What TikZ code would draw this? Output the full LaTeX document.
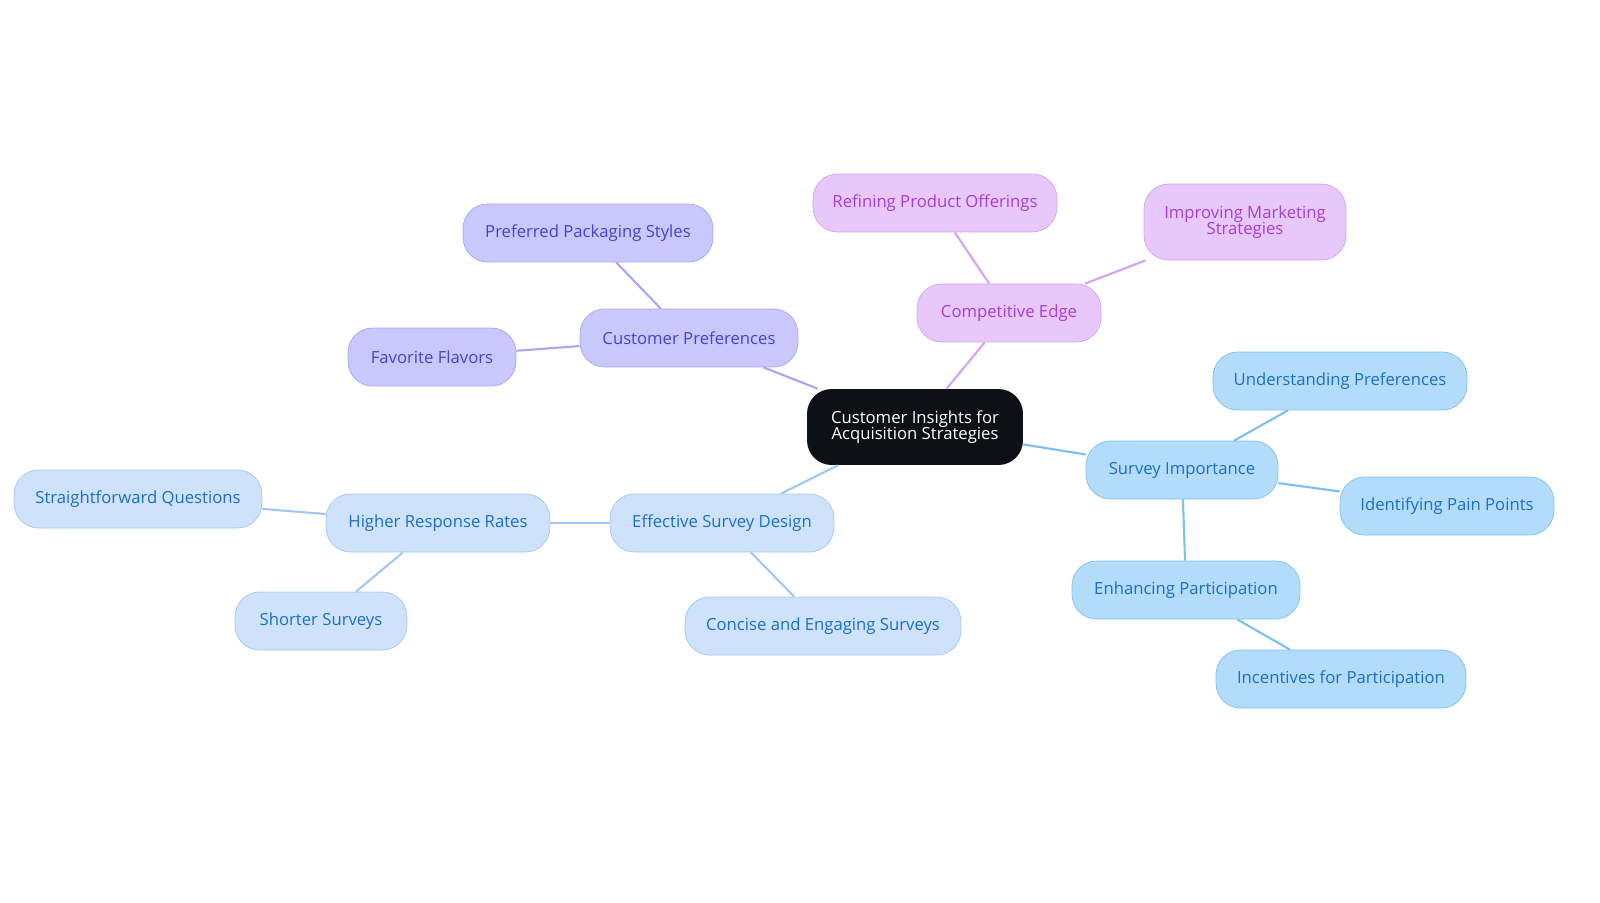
\documentclass[tikz,border=0pt]{standalone}
\usepackage{fontspec}
\setmainfont{Open Sans}
\definecolor{rootfill}{HTML}{0D1117}
\definecolor{purfill}{HTML}{C9C8FC}
\definecolor{purline}{HTML}{A9A6F3}
\definecolor{purtext}{HTML}{4B3FD2}
\definecolor{pinkfill}{HTML}{E8C8FB}
\definecolor{pinkline}{HTML}{D3A2F2}
\definecolor{pinktext}{HTML}{A43ED6}
\definecolor{bluefill}{HTML}{B3DCFB}
\definecolor{blueline}{HTML}{7CC0F2}
\definecolor{bluetext}{HTML}{1C6FC4}
\definecolor{lbluefill}{HTML}{CFE2FB}
\definecolor{lblueline}{HTML}{A3C8F0}
\tikzset{
  box/.style={rounded corners=14pt, minimum height=1.16cm, font=\fontsize{9.5}{10}\selectfont, align=center, inner xsep=0pt},
  root/.style={box, fill=rootfill, text=white, minimum height=1.52cm, minimum width=4.32cm},
  pur/.style={box, fill=purfill, draw=purline, text=purtext},
  pink/.style={box, fill=pinkfill, draw=pinkline, text=pinktext},
  blue/.style={box, fill=bluefill, draw=blueline, text=bluetext},
  lblue/.style={box, fill=lbluefill, draw=lblueline, text=bluetext},
  pedge/.style={draw=purline, line width=1.2pt},
  kedge/.style={draw=pinkline, line width=1.2pt},
  bedge/.style={draw=blueline, line width=1.2pt},
  ledge/.style={draw=lblueline, line width=1.2pt},
}
\begin{document}
\begin{tikzpicture}[x=0.02cm,y=-0.02cm]
\useasboundingbox (0,0) rectangle (1600,903);
\node[root] (root) at (915,427) {Customer Insights for\\[-1pt]Acquisition Strategies};
\node[pur, minimum width=4.36cm] (cp) at (689,338) {Customer Preferences};
\node[pur, minimum width=5cm] (pps) at (588,233) {Preferred Packaging Styles};
\node[pur, minimum width=3.36cm] (ff) at (432,357) {Favorite Flavors};
\node[pink, minimum width=3.68cm] (ce) at (1009,313) {Competitive Edge};
\node[pink, minimum width=4.88cm] (rpo) at (935,203) {Refining Product Offerings};
\node[pink, minimum width=4.04cm, minimum height=1.52cm] (ims) at (1245,222) {Improving Marketing\\[-1pt]Strategies};
\node[blue, minimum width=3.84cm] (si) at (1182,470) {Survey Importance};
\node[blue, minimum width=5.08cm] (up) at (1340,381) {Understanding Preferences};
\node[blue, minimum width=4.28cm] (ipp) at (1447,506) {Identifying Pain Points};
\node[blue, minimum width=4.56cm] (ep) at (1186,590) {Enhancing Participation};
\node[blue, minimum width=5cm] (ifp) at (1341,679) {Incentives for Participation};
\node[lblue, minimum width=4.48cm] (esd) at (722,523) {Effective Survey Design};
\node[lblue, minimum width=4.48cm] (hrr) at (438,523) {Higher Response Rates};
\node[lblue, minimum width=4.96cm] (sq) at (138,499) {Straightforward Questions};
\node[lblue, minimum width=3.44cm] (ss) at (321,621) {Shorter Surveys};
\node[lblue, minimum width=5.52cm] (ces) at (823,626) {Concise and Engaging Surveys};
\draw[pedge] (root) -- (cp);
\draw[pedge] (cp) -- (pps);
\draw[pedge] (cp) -- (ff);
\draw[kedge] (root) -- (ce);
\draw[kedge] (ce) -- (rpo);
\draw[kedge] (ce) -- (ims);
\draw[bedge] (root) -- (si);
\draw[bedge] (si) -- (up);
\draw[bedge] (si) -- (ipp);
\draw[bedge] (si) -- (ep);
\draw[bedge] (ep) -- (ifp);
\draw[ledge] (root) -- (esd);
\draw[ledge] (esd) -- (hrr);
\draw[ledge] (esd) -- (ces);
\draw[ledge] (hrr) -- (sq);
\draw[ledge] (hrr) -- (ss);
\end{tikzpicture}
\end{document}
